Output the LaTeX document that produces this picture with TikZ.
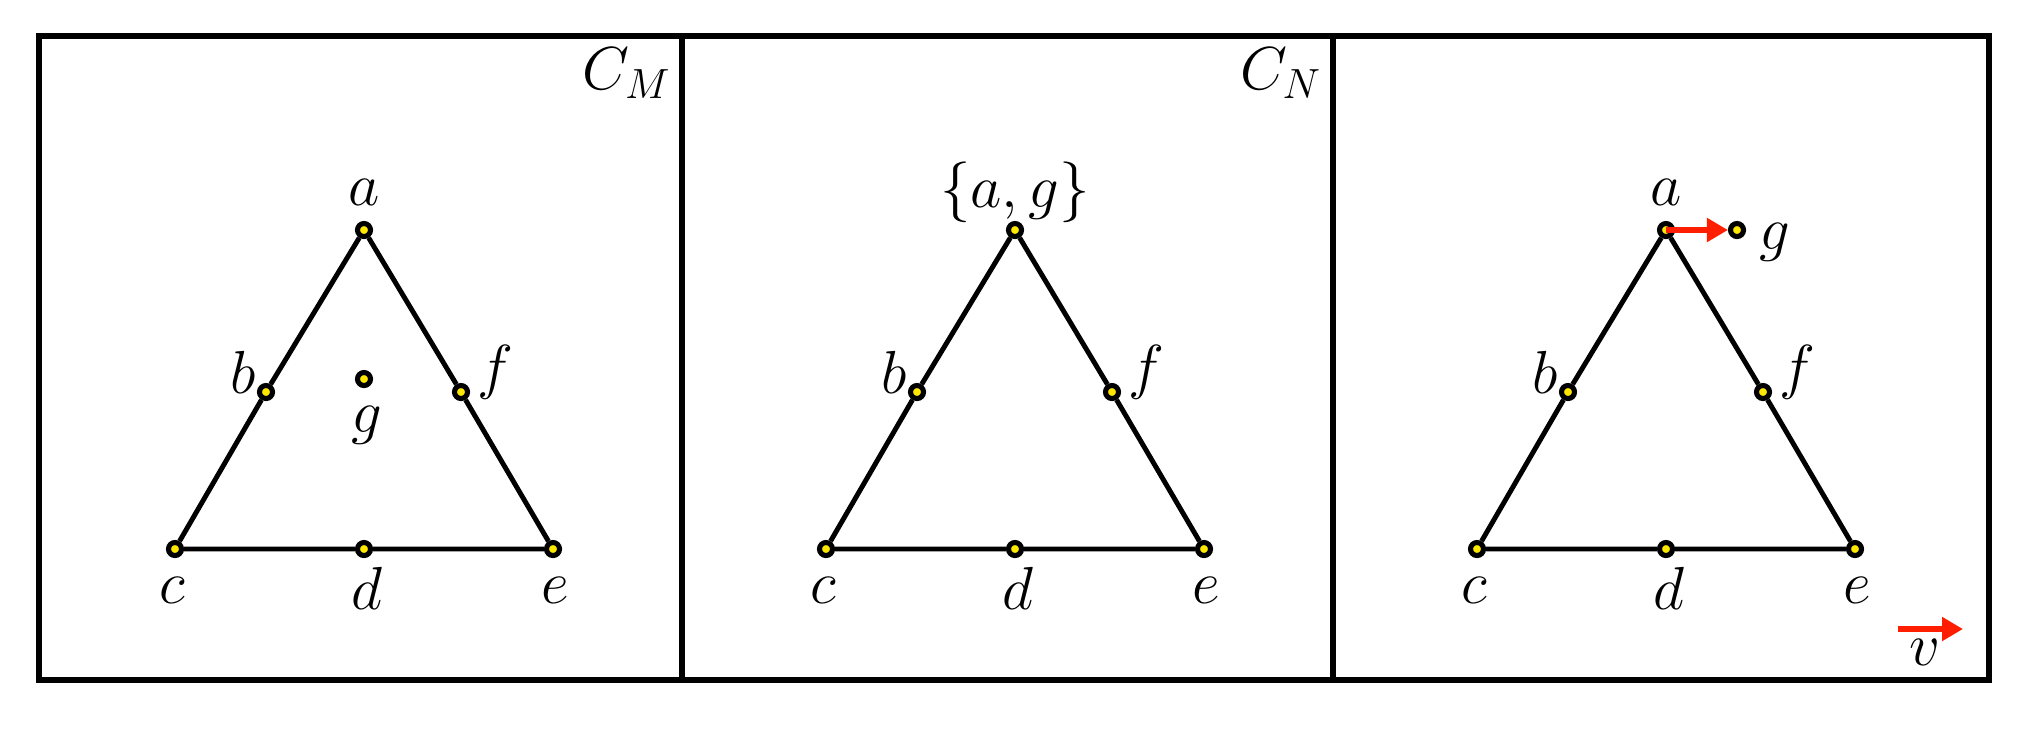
\documentclass[tikz,border=0pt]{standalone}
\usetikzlibrary{arrows.meta}
\definecolor{dotyellow}{RGB}{255,232,0}
\definecolor{arrred}{RGB}{255,30,0}
\tikzset{
  vtx/.style={circle, draw=black, fill=dotyellow, line width=1.45pt, minimum size=0.13cm, inner sep=0pt},
  lbl/.style={font=\fontsize{17.5}{20}\selectfont, inner sep=0pt},
  edge/.style={line width=1.4pt},
  frame/.style={line width=1.7pt},
  redarr/.style={draw=arrred, line width=1.45pt, -{Triangle[length=0.21cm,width=0.23cm]}}
}
\begin{document}
\begin{tikzpicture}[x=0.01cm,y=-0.01cm]
\useasboundingbox (0,0) rectangle (2026,732);
% frame
\draw[frame] (39,36) rectangle (1989,680);
\coordinate (t1) at (682,36); \coordinate (b1) at (682,680);
\coordinate (t2) at (1333,36); \coordinate (b2) at (1333,680);
\draw[frame] (t1) -- (b1);
\draw[frame] (t2) -- (b2);
\node[lbl] (CM) at (627,73) {$C_M$};
\node[lbl] (CN) at (1281,73) {$C_N$};
% triangles
\foreach \p/\dx in {1/0,2/651,3/1302}{
  \begin{scope}[xshift=\dx*0.01cm]
    \node[vtx] (a\p) at (364,230) {};
    \node[vtx] (b\p) at (266,392) {};
    \node[vtx] (f\p) at (461,392) {};
    \node[vtx] (c\p) at (175,549) {};
    \node[vtx] (d\p) at (364,549) {};
    \node[vtx] (e\p) at (553,549) {};
    \draw[edge] (a\p) -- (b\p) -- (c\p) -- (d\p) -- (e\p) -- (f\p) -- (a\p);
    \node[lbl] (lb\p) at (243,372) {$b$};
    \node[lbl] (lf\p) at (495,372) {$f$};
    \node[lbl] (lc\p) at (172,590) {$c$};
    \node[lbl] (ld\p) at (367,588) {$d$};
    \node[lbl] (le\p) at (555,590) {$e$};
  \end{scope}
}
\node[lbl] (la1) at (364,192) {$a$};
\node[lbl] (la2) at (1015,192) {$\{a,g\}$};
\node[lbl] (la3) at (1666,192) {$a$};
% g in panel 1
\node[vtx] (g1) at (364,379) {};
\node[lbl] (lg1) at (367,425) {$g$};
% g in panel 3
\node[vtx] (g3) at (1737,230) {};
\node[lbl] (lg3) at (1775,242) {$g$};
\draw[redarr] (a3.center) -- (g3.west);
% v arrow
\coordinate (v0) at (1898,629);
\coordinate (v1) at (1963,629);
\draw[redarr] (v0) -- (v1);
\node[lbl] (lv) at (1925,652) {$v$};
\end{tikzpicture}
\end{document}
